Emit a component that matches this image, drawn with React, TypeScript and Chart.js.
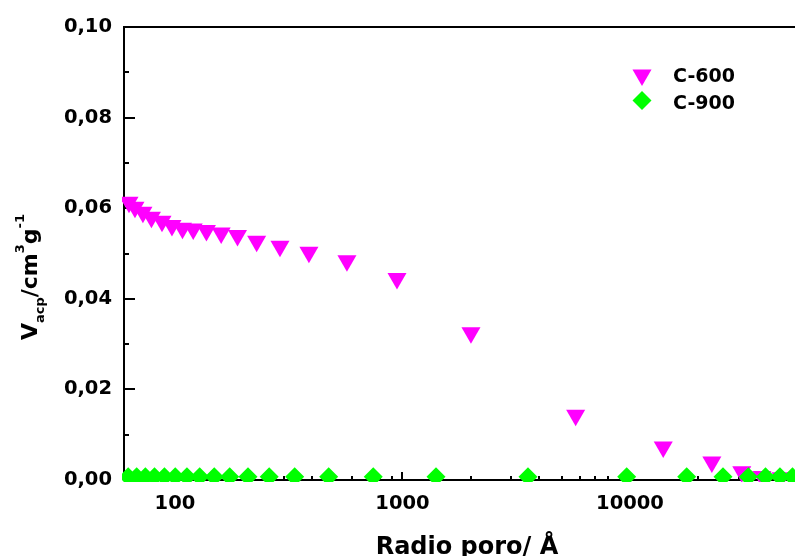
import { useEffect, useRef } from 'react';
import { Chart, registerables } from 'chart.js';
import { drawPoint } from 'chart.js/helpers';

Chart.register(...registerables);

// Cumulative pore volume vs. pore radius
const radiusC600 = [
  62.8, 66.7, 72.3, 78.8, 87.7, 97.0, 107.9, 120.3, 137.5, 159.6, 188.3, 228.6,
  289.4, 388, 570, 946, 2000, 5770, 14000, 22900, 31000, 38000, 46100,
];
const volumeC600 = [
  0.0613, 0.0602, 0.0591, 0.058, 0.0571, 0.0562, 0.0556, 0.0554, 0.0551, 0.0545,
  0.054, 0.0527, 0.0516, 0.0503, 0.0484, 0.0445, 0.0325, 0.0143, 0.0073, 0.004,
  0.0018, 0.0008, 0.0005,
];
const radiusC900 = [
  62.3, 67.9, 74.1, 81.3, 89.9, 100.3, 112.9, 128.4, 148.8, 174.0, 209.4, 259.5,
  335.9, 473.8, 744, 1404, 3561, 9672, 17750, 25630, 33110, 39410, 45620, 51800,
];
const volumeC900 = [
  0.0007, 0.0007, 0.0007, 0.0007, 0.0007, 0.0007, 0.0007, 0.0007, 0.0007, 0.0007,
  0.0007, 0.0007, 0.0007, 0.0007, 0.0007, 0.0007, 0.0007, 0.0007, 0.0007, 0.0007,
  0.0007, 0.0007, 0.0007, 0.0007,
];

const seriesNames = ['C-600', 'C-900'];
const seriesColors = ['#FF00FF', '#00FF00'];

const xMin = 59.7;
const xMax = 53120;
const xMajorTicks = [100, 1000, 10000];
const xMinorTicks = [
  60, 70, 80, 90, 200, 300, 400, 500, 600, 700, 800, 900,
  2000, 3000, 4000, 5000, 6000, 7000, 8000, 9000, 20000, 30000, 40000, 50000,
];
const yMajorTicks = [0, 0.02, 0.04, 0.06, 0.08, 0.1];
const yMinorTicks = [0.01, 0.03, 0.05, 0.07, 0.09];

const xTitle = 'Radio poro/ Å';

const FAMILY = '"DejaVu Sans", "Liberation Sans", sans-serif';

const triangleStyle = { pointStyle: 'triangle', rotation: 180, radius: 11, borderWidth: 0 };
const diamondStyle = { pointStyle: 'rectRot', rotation: 0, radius: 9.5, borderWidth: 0 };

const framePlugin = {
  id: 'frame',
  beforeDatasetsDraw(chart: any) {
    const { ctx, chartArea: a, scales } = chart;
    const x = scales.x;
    const y = scales.y;
    ctx.save();
    ctx.strokeStyle = '#000';
    ctx.lineWidth = 2;
    ctx.beginPath();
    ctx.moveTo(a.left - 1, a.top);
    ctx.lineTo(a.right, a.top);
    ctx.stroke();

    const yTick = (v: number, len: number) => {
      const py = Math.round(y.getPixelForValue(v));
      ctx.beginPath();
      ctx.moveTo(a.left, py);
      ctx.lineTo(a.left + len, py);
      ctx.stroke();
    };
    yMajorTicks.forEach((v) => yTick(v, 11));
    yMinorTicks.forEach((v) => yTick(v, 5));

    const xTick = (v: number, len: number) => {
      const px = Math.round(x.getPixelForValue(v));
      ctx.beginPath();
      ctx.moveTo(px, a.bottom);
      ctx.lineTo(px, a.bottom - len);
      ctx.stroke();
    };
    xMajorTicks.forEach((v) => xTick(v, 8));
    xMinorTicks.forEach((v) => xTick(v, 4));
    ctx.restore();
  },
  afterDraw(chart: any) {
    const { ctx } = chart;
    ctx.save();
    ctx.fillStyle = '#000';

    // x-axis title
    ctx.font = `bold 24px ${FAMILY}`;
    ctx.textAlign = 'center';
    ctx.textBaseline = 'alphabetic';
    ctx.fillText(xTitle, 467, 554);

    // y-axis title: V_acp/cm^3 g^-1, rotated
    const main = `bold 22px ${FAMILY}`;
    const small = `bold 13px ${FAMILY}`;
    const parts: [string, string, number][] = [
      ['V', main, 0],
      ['acp', small, 7],
      ['/cm', main, 0],
      ['3', small, -13],
      ['g', main, 0],
      ['-1', small, -13],
    ];
    let total = 0;
    parts.forEach(([t, f]) => {
      ctx.font = f;
      total += ctx.measureText(t).width;
    });
    ctx.translate(37, 277 + total / 2);
    ctx.rotate(-Math.PI / 2);
    ctx.textAlign = 'left';
    let cx = 0;
    parts.forEach(([t, f, dy]) => {
      ctx.font = f;
      ctx.fillText(t, cx, dy);
      cx += ctx.measureText(t).width;
    });
    ctx.setTransform(1, 0, 0, 1, 0, 0);

    // legend
    const rows = [
      { style: triangleStyle, y: 75, base: 82 },
      { style: diamondStyle, y: 100.5, base: 108.5 },
    ];
    rows.forEach((r, i) => {
      ctx.fillStyle = seriesColors[i];
      drawPoint(ctx, r.style as any, 642, r.y);
      ctx.fillStyle = '#000';
      ctx.font = `bold 19px ${FAMILY}`;
      ctx.textAlign = 'left';
      ctx.fillText(seriesNames[i], 673, r.base);
    });
    ctx.restore();
  },
};

export default function App() {
  const canvasRef = useRef<HTMLCanvasElement | null>(null);

  useEffect(() => {
    const canvas = canvasRef.current;
    if (!canvas) return;
    const tickFont = { family: FAMILY, weight: 'bold' as const, size: 19.5 };
    const clip = { left: 2, top: 10, right: 10, bottom: 2 };
    const chart = new Chart(canvas, {
      type: 'scatter',
      data: {
        datasets: [
          {
            label: seriesNames[0],
            data: radiusC600.map((r, i) => ({ x: r, y: volumeC600[i] })),
            backgroundColor: seriesColors[0],
            borderWidth: 0,
            pointStyle: 'triangle',
            rotation: 180,
            pointRadius: 11,
            pointBorderWidth: 0,
            order: 2,
            clip,
          } as any,
          {
            label: seriesNames[1],
            data: radiusC900.map((r, i) => ({ x: r, y: volumeC900[i] })),
            backgroundColor: seriesColors[1],
            borderWidth: 0,
            pointStyle: 'rectRot',
            pointRadius: 9.5,
            pointBorderWidth: 0,
            order: 1,
            clip,
          } as any,
        ],
      },
      options: {
        responsive: false,
        animation: false,
        devicePixelRatio: 1,
        layout: { autoPadding: false, padding: { top: 27, left: 0, right: 0, bottom: 0 } },
        plugins: {
          legend: { display: false },
          tooltip: { enabled: false },
        },
        scales: {
          x: {
            type: 'logarithmic',
            min: xMin,
            max: xMax,
            afterFit: (s: any) => {
              s.height = 76;
              s.paddingLeft = 0;
              s.paddingRight = 0;
            },
            afterBuildTicks: (s: any) => {
              s.ticks = xMajorTicks.map((v) => ({ value: v, major: true }));
            },
            grid: { display: true, drawOnChartArea: false, drawTicks: false },
            border: { display: true, color: '#000', width: 2 },
            ticks: {
              autoSkip: false,
              maxRotation: 0,
              padding: 12,
              color: '#000',
              font: tickFont,
              callback: (v: any) => String(v),
            },
          },
          y: {
            type: 'linear',
            min: 0,
            max: 0.1,
            afterFit: (s: any) => {
              s.width = 124;
              s.paddingTop = 0;
              s.paddingBottom = 0;
            },
            afterBuildTicks: (s: any) => {
              s.ticks = yMajorTicks.map((v) => ({ value: v }));
            },
            grid: { display: true, drawOnChartArea: false, drawTicks: false },
            border: { display: true, color: '#000', width: 2 },
            ticks: {
              autoSkip: false,
              padding: 12,
              color: '#000',
              font: tickFont,
              callback: (v: any) => Number(v).toFixed(2).replace('.', ','),
            },
          },
        },
      },
      plugins: [framePlugin],
    });
    return () => chart.destroy();
  }, []);

  return (
    <div style={{ position: 'fixed', left: 0, top: 0, width: 795, height: 556, background: '#fff' }}>
      <canvas ref={canvasRef} width={795} height={556} />
    </div>
  );
}
